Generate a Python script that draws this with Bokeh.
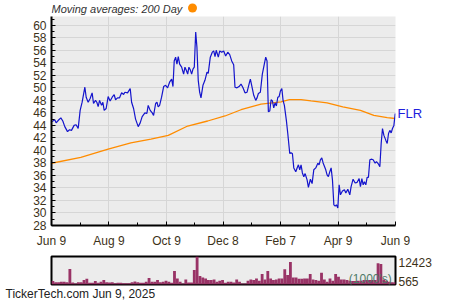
import pandas as pd
from bokeh.plotting import figure
from bokeh.models import Range1d, FixedTicker, LinearAxis, Label, Title
from bokeh.layouts import column
from bokeh.embed import file_html
from bokeh.resources import INLINE

START = "2024-06-09"
END = "2025-06-09"

# closing price (days after Jun 9, 2024)
price_days = [0.6, 3.5, 4.9, 7.8, 9.9, 12.0, 14.1, 17.0, 19.1, 21.2,
              24.0, 26.1, 28.3, 30.4, 32.5, 35.4, 36.8, 38.9, 41.0, 43.1,
              44.6, 46.7, 48.1, 49.5, 51.0, 53.1, 54.5, 55.9, 58.0, 60.1,
              62.2, 64.4, 66.5, 68.0, 70.1, 72.2, 74.4, 76.5, 77.9, 80.7,
              83.5, 85.0, 87.1, 89.2, 92.0, 94.1, 96.2, 99.1, 101.2, 102.6,
              104.7, 106.9, 108.3, 110.5, 111.9, 113.2, 114.7, 116.8, 119.0, 121.1,
              123.2, 125.3, 127.5, 128.9, 130.2, 131.7, 133.1, 134.5, 136.0, 138.1,
              140.2, 141.6, 143.0, 144.5, 145.8, 147.2, 148.7, 150.1, 151.5, 153.0,
              154.3, 155.7, 157.2, 158.6, 160.7, 162.8, 165.0, 166.3, 168.5, 170.6,
              172.1, 173.5, 174.8, 177.0, 178.5, 180.6, 182.7, 184.8, 187.0, 189.1,
              191.2, 193.3, 194.7, 196.8, 199.0, 201.1, 203.2, 205.3, 207.5, 209.6,
              211.0, 212.4, 214.6, 216.7, 218.1, 219.5, 221.6, 223.7, 225.8, 227.3,
              228.7, 230.1, 231.6, 233.0, 234.4, 235.8, 237.2, 238.6, 240.1, 241.5,
              242.9, 244.4, 245.7, 247.1, 249.2, 250.7, 252.8, 254.2, 255.6, 257.1,
              259.2, 260.6, 262.0, 263.4, 264.8, 266.2, 267.7, 269.1, 271.2, 272.6,
              274.7, 276.5, 278.3, 280.4, 282.6, 283.9, 285.3, 286.8, 288.2, 291.0,
              292.4, 293.8, 295.3, 296.7, 298.1, 299.6, 301.0, 302.3, 303.8, 305.2,
              306.6, 308.7, 310.8, 312.3, 314.4, 316.5, 317.9, 320.0, 322.2, 324.3,
              326.4, 327.8, 329.3, 330.7, 332.0, 333.5, 334.9, 336.3, 337.8, 339.2,
              341.3, 343.4, 344.8, 347.0, 348.4, 349.8, 351.2, 352.7, 354.8, 356.2,
              357.6, 359.0, 360.4, 361.8, 363.3, 364.7]
price_vals = [44.6, 44.9, 44.4, 44.9, 45.2, 44.7, 43.8, 43.0, 43.3, 43.2,
              44.0, 44.1, 43.5, 46.4, 47.7, 50.1, 48.5, 47.7, 48.3, 49.2,
              47.5, 48.0, 47.7, 47.0, 48.0, 47.2, 47.7, 46.4, 46.7, 48.6,
              47.9, 48.5, 48.9, 48.1, 48.4, 48.4, 49.2, 48.95, 49.3, 49.2,
              49.9, 47.7, 46.7, 45.0, 43.8, 44.4, 45.4, 46.0, 45.9, 47.2,
              46.4, 46.0, 45.6, 47.5, 47.7, 46.95, 47.2, 48.5, 50.2, 50.4,
              50.0, 50.9, 51.4, 50.2, 54.3, 54.9, 53.8, 55.0, 53.8, 53.3,
              52.2, 53.3, 52.8, 52.2, 53.3, 52.9, 52.2, 53.0, 53.3, 58.9,
              56.5, 51.2, 49.3, 48.4, 50.4, 51.2, 52.5, 52.3, 54.9, 55.7,
              55.9, 55.0, 56.0, 54.9, 55.9, 55.7, 55.9, 55.1, 55.7, 55.3,
              54.3, 53.7, 50.1, 50.0, 50.2, 50.6, 50.0, 49.2, 49.3, 50.6,
              51.4, 50.4, 48.8, 48.0, 48.4, 49.1, 49.3, 52.2, 53.8, 54.9,
              54.3, 46.2, 46.3, 48.1, 47.9, 46.8, 47.6, 47.1, 48.5, 48.6,
              49.5, 49.9, 48.0, 47.2, 44.8, 42.7, 39.5, 39.6, 39.5, 37.2,
              36.6, 37.2, 37.7, 36.9, 37.7, 36.4, 35.8, 36.3, 35.3, 34.1,
              35.4, 34.7, 36.9, 37.2, 37.95, 37.7, 38.5, 38.8, 38.0, 36.9,
              36.1, 35.8, 36.6, 37.2, 35.3, 31.3, 31.1, 31.3, 30.8, 34.5,
              32.9, 33.5, 33.7, 33.2, 33.8, 32.9, 34.2, 35.4, 34.8, 34.9,
              35.5, 34.2, 35.5, 34.5, 35.0, 34.5, 35.7, 35.7, 38.5, 38.6,
              38.5, 37.95, 38.2, 37.8, 37.4, 41.1, 43.5, 42.4, 41.6, 41.1,
              42.7, 43.2, 42.8, 43.5, 44.0, 45.9]

# 200-day moving average
ma_days = [0, 31.1, 60.1, 84.2, 105.5, 123.9, 144.5, 165.7, 184.1, 201.1, 222.3,
           243.6, 252.4, 264.8, 275.4, 292.4, 309.1, 327.8, 342.0, 356.2, 364.7]
ma_vals = [37.95, 38.9, 40.2, 41.2, 41.8, 42.4, 43.9, 44.7, 45.5, 46.5, 47.4,
           47.75, 48.1, 48.1, 47.9, 47.6, 46.95, 46.4, 45.6, 45.25, 45.1]

# volume (1000's), one value per 3-day block
vol_days = list(range(0, 364, 3))
vol_vals = [2000, 1565, 1565, 1708, 1708, 1565, 7100, 1422, 994, 1565,
            1565, 2422, 2994, 1280, 1280, 2000, 1280, 1708, 2422, 1565,
            1422, 1565, 1137, 1280, 1280, 1137, 1137, 1137, 1565, 1850,
            1565, 1280, 1280, 1708, 3280, 1708, 1708, 2422, 1565, 1708,
            2137, 1708, 1280, 6280, 3137, 1708, 994, 2708, 1422, 1422,
            6700, 12423, 4137, 3565, 3137, 2422, 2422, 2708, 1708, 2137,
            2422, 1280, 1708, 1708, 1422, 2708, 1708, 994, 994, 2137,
            2708, 2422, 3137, 2137, 4994, 2708, 6280, 3137, 2422, 2708,
            3137, 3137, 7000, 4565, 10137, 3500, 3565, 2994, 2994, 3137,
            3137, 4994, 2708, 2422, 2137, 5565, 2708, 1708, 3137, 2137,
            4994, 3850, 2708, 2708, 2422, 2137, 2000, 2000, 2137, 2137,
            2422, 2422, 2422, 2422, 2422, 9567, 9280, 2708, 2137, 1708,
            1565, 1565]
vol_min, vol_max = 565, 12423

x_tick_dates = ["2024-06-09", "2024-08-09", "2024-10-09", "2024-12-08",
                "2025-02-07", "2025-04-09", "2025-06-09"]
x_tick_labels = ["Jun 9", "Aug 9", "Oct 9", "Dec 8", "Feb 7", "Apr 9", "Jun 9"]
y_ticks = list(range(28, 61, 2))
y_minor = list(range(28, 62))

title_text = "Moving averages: 200 Day"
footer_text = "TickerTech.com  Jun 9, 2025"
symbol = "FLR"

DAY_MS = 86400000.0
t0 = pd.Timestamp(START).value / 1e6
def ms(d):
    return t0 + d * DAY_MS
def dms(s):
    return pd.Timestamp(s).value / 1e6

FONT = "Liberation Sans"
TICK_COL = "#3d3219"
BG = "#ececec"
GRID = "#d6d6d6"
ORANGE = "#ff8c00"
FL, FR = 51, 395   # frame edges in pixels (shared by all rows)

# header: title with the orange legend dot (pixel coordinates)
hdr = figure(width=450, height=16, x_range=Range1d(FL, FR), y_range=Range1d(16, 0),
             x_axis_location=None, y_axis_location=None,
             output_backend="svg", toolbar_location=None,
             min_border_left=FL, min_border_right=450 - FR,
             min_border_top=0, min_border_bottom=0)
hdr.grid.visible = False
hdr.outline_line_color = None
hdr.background_fill_color = "white"
hdr.border_fill_color = "white"
hdr.add_layout(Label(x=51, y=8, text=title_text, text_font=FONT,
                     text_font_style="italic", text_font_size="11px",
                     text_color="#333333", text_baseline="middle"))
hdr.scatter([192], [7.5], size=9, marker="circle", fill_color=ORANGE, line_color=None)

# price panel
p = figure(width=450, height=234, x_axis_type="datetime",
           x_range=Range1d(dms(START), dms(END)), y_range=Range1d(28, 61.4),
           output_backend="svg", toolbar_location=None,
           min_border_left=FL, min_border_right=450 - FR, min_border_top=0,
           min_border_bottom=23)
p.background_fill_color = BG
p.border_fill_color = "white"
p.outline_line_color = None

tick_ms = [dms(s) for s in x_tick_dates]
minor_ms = [(a + b) / 2 for a, b in zip(tick_ms[:-1], tick_ms[1:])]
p.xaxis.ticker = FixedTicker(ticks=tick_ms, minor_ticks=minor_ms)
p.xaxis.major_label_overrides = {t: l for t, l in zip(tick_ms, x_tick_labels)}
p.yaxis.ticker = FixedTicker(ticks=y_ticks, minor_ticks=y_minor)

for ax in (p.xaxis[0], p.yaxis[0]):
    ax.axis_line_color = "black"
    ax.axis_line_width = 2
    ax.major_tick_line_color = "black"
    ax.minor_tick_line_color = "black"
    ax.major_tick_in = 4
    ax.major_tick_out = 0
    ax.minor_tick_in = 3
    ax.minor_tick_out = 0
    ax.major_label_text_font = FONT
    ax.major_label_text_font_size = "12px"
    ax.major_label_text_color = TICK_COL
p.xaxis.major_label_standoff = 8
p.yaxis.major_label_standoff = 5
p.xgrid.grid_line_color = GRID
p.ygrid.grid_line_color = GRID

p.line([ms(d) for d in ma_days], ma_vals, line_color=ORANGE, line_width=1.3)
p.line([ms(d) for d in price_days], price_vals, line_color="#1414cc", line_width=1.2)

last = price_vals[-1]
right_ax = LinearAxis(ticker=FixedTicker(ticks=[last]),
                      major_label_overrides={last: symbol},
                      axis_line_color=None, major_tick_line_color=None,
                      minor_tick_line_color=None, major_tick_in=0, major_tick_out=0,
                      minor_tick_in=0, minor_tick_out=0, major_label_standoff=2,
                      major_label_text_font=FONT, major_label_text_font_size="13px",
                      major_label_text_color="#2020dd")
p.add_layout(right_ax, "right")

# volume panel (footer line as a title below its frame)
v = figure(width=450, height=50, x_range=p.x_range,
           y_range=Range1d(vol_min, vol_max),
           x_axis_location=None, y_axis_location=None,
           output_backend="svg", toolbar_location=None,
           min_border_left=FL, min_border_right=450 - FR, min_border_top=6,
           min_border_bottom=0)
v.background_fill_color = BG
v.border_fill_color = "white"
v.outline_line_color = "black"
v.outline_line_width = 2
v.grid.visible = False
v.vbar(x=[ms(d + 1.5) for d in vol_days], width=3 * DAY_MS, top=vol_vals,
       bottom=vol_min, fill_color="#993366", line_color=None)

v.extra_y_ranges = {"lbl": Range1d(0, 1)}
vol_ax = LinearAxis(y_range_name="lbl", ticker=FixedTicker(ticks=[0.79, 0.12]),
                    major_label_overrides={0.79: str(vol_max), 0.12: str(vol_min)},
                    axis_line_color=None, major_tick_line_color=None,
                    minor_tick_line_color=None, major_tick_in=0, major_tick_out=0,
                    minor_tick_in=0, minor_tick_out=0, major_label_standoff=3,
                    major_label_text_font=FONT, major_label_text_font_size="12px",
                    major_label_text_color=TICK_COL)
v.add_layout(vol_ax, "right")
v.add_layout(Label(x=ms(315.5), y=0.18, y_range_name="lbl", text="(1000's)",
                   text_font=FONT, text_font_size="12px", text_color="#4f7a68",
                   text_baseline="middle"))
v.add_layout(Title(text=footer_text, align="left", offset=-46, standoff=0,
                   text_font=FONT, text_font_size="12px", text_font_style="normal",
                   text_color="#222222"), "below")

layout = column(hdr, p, v, spacing=0)
open("out.html", "w").write(file_html(layout, INLINE))
